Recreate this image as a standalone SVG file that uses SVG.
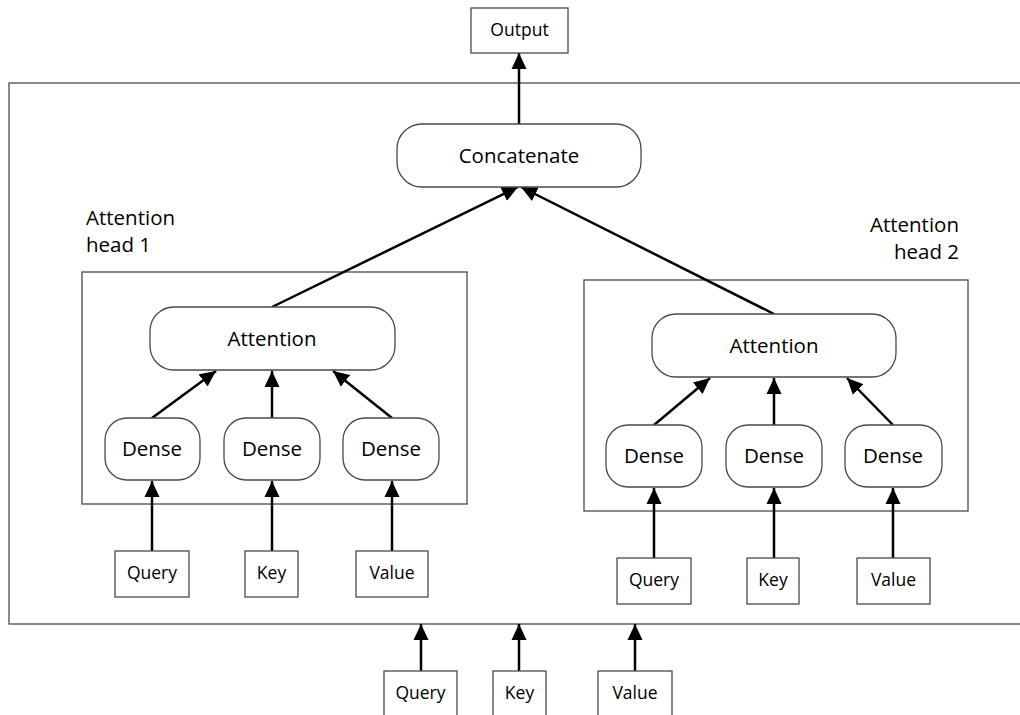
<svg xmlns="http://www.w3.org/2000/svg" width="1020" height="715" viewBox="0 0 1020 715">
  <style>
    .box { fill: #ffffff; stroke: #4a4a4a; stroke-width: 1.3; }
    .frame { fill: none; stroke: #4a4a4a; stroke-width: 1.3; }
    .node { fill: #ffffff; stroke: #4a4a4a; stroke-width: 1.3; }
    .lbl { font-family: "Open Sans", "Liberation Sans", sans-serif; font-size: 20.5px; fill: #000; text-anchor: middle; }
    .small { font-family: "Open Sans", "Liberation Sans", sans-serif; font-size: 17.5px; fill: #000; text-anchor: middle; }
    .cap { font-family: "Open Sans", "Liberation Sans", sans-serif; font-size: 20.5px; fill: #000; }
    .edge { stroke: #000; stroke-width: 2.5; fill: none; marker-end: url(#arrow); }
  </style>
  <defs>
    <marker id="arrow" markerUnits="userSpaceOnUse" markerWidth="16" markerHeight="16" viewBox="0 0 16 16" refX="16" refY="8" orient="auto">
      <path d="M0,0.5 L16,8 L0,15.5 Z" fill="#000"/>
    </marker>
  </defs>

  <rect width="1020" height="715" fill="#ffffff"/>

  <!-- outer multi-head block -->
  <g id="outer-block">
    <rect class="frame" x="9" y="83" width="1030" height="541"/>
  </g>

  <!-- head frames and captions -->
  <g id="head1">
    <rect class="frame" x="82" y="272" width="385" height="232"/>
    <text class="cap" x="86" y="225">Attention</text>
    <text class="cap" x="86" y="252">head 1</text>
  </g>
  <g id="head2">
    <rect class="frame" x="584" y="280" width="384" height="231"/>
    <text class="cap" x="959" y="232" text-anchor="end">Attention</text>
    <text class="cap" x="959" y="259" text-anchor="end">head 2</text>
  </g>

  <!-- connectors -->
  <g id="connectors">
    <line class="edge" x1="519" y1="124" x2="519" y2="53"/>
    <line class="edge" x1="272" y1="307" x2="518" y2="187"/>
    <line class="edge" x1="774" y1="314" x2="521" y2="187"/>

    <line class="edge" x1="152" y1="418" x2="216" y2="371"/>
    <line class="edge" x1="272" y1="418" x2="272" y2="371"/>
    <line class="edge" x1="392" y1="418" x2="333" y2="371"/>

    <line class="edge" x1="654" y1="425" x2="710" y2="378"/>
    <line class="edge" x1="774" y1="425" x2="774" y2="378"/>
    <line class="edge" x1="893" y1="425" x2="847" y2="378"/>

    <line class="edge" x1="152" y1="551" x2="152" y2="481"/>
    <line class="edge" x1="272" y1="551" x2="272" y2="481"/>
    <line class="edge" x1="392" y1="551" x2="392" y2="481"/>

    <line class="edge" x1="654" y1="558" x2="654" y2="488"/>
    <line class="edge" x1="774" y1="558" x2="774" y2="488"/>
    <line class="edge" x1="893" y1="558" x2="893" y2="488"/>

    <line class="edge" x1="421" y1="671" x2="421" y2="624"/>
    <line class="edge" x1="519" y1="671" x2="519" y2="624"/>
    <line class="edge" x1="635" y1="671" x2="635" y2="624"/>
  </g>

  <!-- nodes -->
  <g id="output">
    <rect class="box" x="471" y="8" width="97" height="45"/>
    <text class="small" x="519.5" y="36">Output</text>
  </g>
  <g id="concatenate">
    <rect class="node" x="397" y="124" width="244" height="63" rx="25"/>
    <text class="lbl" x="519" y="163">Concatenate</text>
  </g>

  <g id="attention-1">
    <rect class="node" x="150" y="307" width="245" height="63" rx="24"/>
    <text class="lbl" x="272" y="346">Attention</text>
  </g>
  <g id="dense-1a">
    <rect class="node" x="105" y="418" width="95" height="62" rx="22"/>
    <text class="lbl" x="152" y="456">Dense</text>
  </g>
  <g id="dense-1b">
    <rect class="node" x="224" y="418" width="96" height="62" rx="22"/>
    <text class="lbl" x="272" y="456">Dense</text>
  </g>
  <g id="dense-1c">
    <rect class="node" x="343" y="418" width="96" height="62" rx="22"/>
    <text class="lbl" x="391" y="456">Dense</text>
  </g>
  <g id="query-1">
    <rect class="box" x="115" y="551" width="74" height="46"/>
    <text class="small" x="152" y="579">Query</text>
  </g>
  <g id="key-1">
    <rect class="box" x="245" y="551" width="53" height="46"/>
    <text class="small" x="271.5" y="579">Key</text>
  </g>
  <g id="value-1">
    <rect class="box" x="356" y="551" width="72" height="46"/>
    <text class="small" x="392" y="579">Value</text>
  </g>

  <g id="attention-2">
    <rect class="node" x="652" y="314" width="244" height="63" rx="24"/>
    <text class="lbl" x="774" y="353">Attention</text>
  </g>
  <g id="dense-2a">
    <rect class="node" x="606" y="425" width="96" height="62" rx="22"/>
    <text class="lbl" x="654" y="463">Dense</text>
  </g>
  <g id="dense-2b">
    <rect class="node" x="726" y="425" width="96" height="62" rx="22"/>
    <text class="lbl" x="774" y="463">Dense</text>
  </g>
  <g id="dense-2c">
    <rect class="node" x="845" y="425" width="97" height="62" rx="22"/>
    <text class="lbl" x="893" y="463">Dense</text>
  </g>
  <g id="query-2">
    <rect class="box" x="617" y="558" width="74" height="46"/>
    <text class="small" x="654" y="586">Query</text>
  </g>
  <g id="key-2">
    <rect class="box" x="747" y="558" width="52" height="46"/>
    <text class="small" x="773" y="586">Key</text>
  </g>
  <g id="value-2">
    <rect class="box" x="857" y="558" width="73" height="46"/>
    <text class="small" x="893.5" y="586">Value</text>
  </g>

  <g id="query-in">
    <rect class="box" x="384" y="671" width="73" height="60"/>
    <text class="small" x="420.5" y="699">Query</text>
  </g>
  <g id="key-in">
    <rect class="box" x="493" y="671" width="53" height="60"/>
    <text class="small" x="519.5" y="699">Key</text>
  </g>
  <g id="value-in">
    <rect class="box" x="598" y="671" width="74" height="60"/>
    <text class="small" x="635" y="699">Value</text>
  </g>
</svg>
